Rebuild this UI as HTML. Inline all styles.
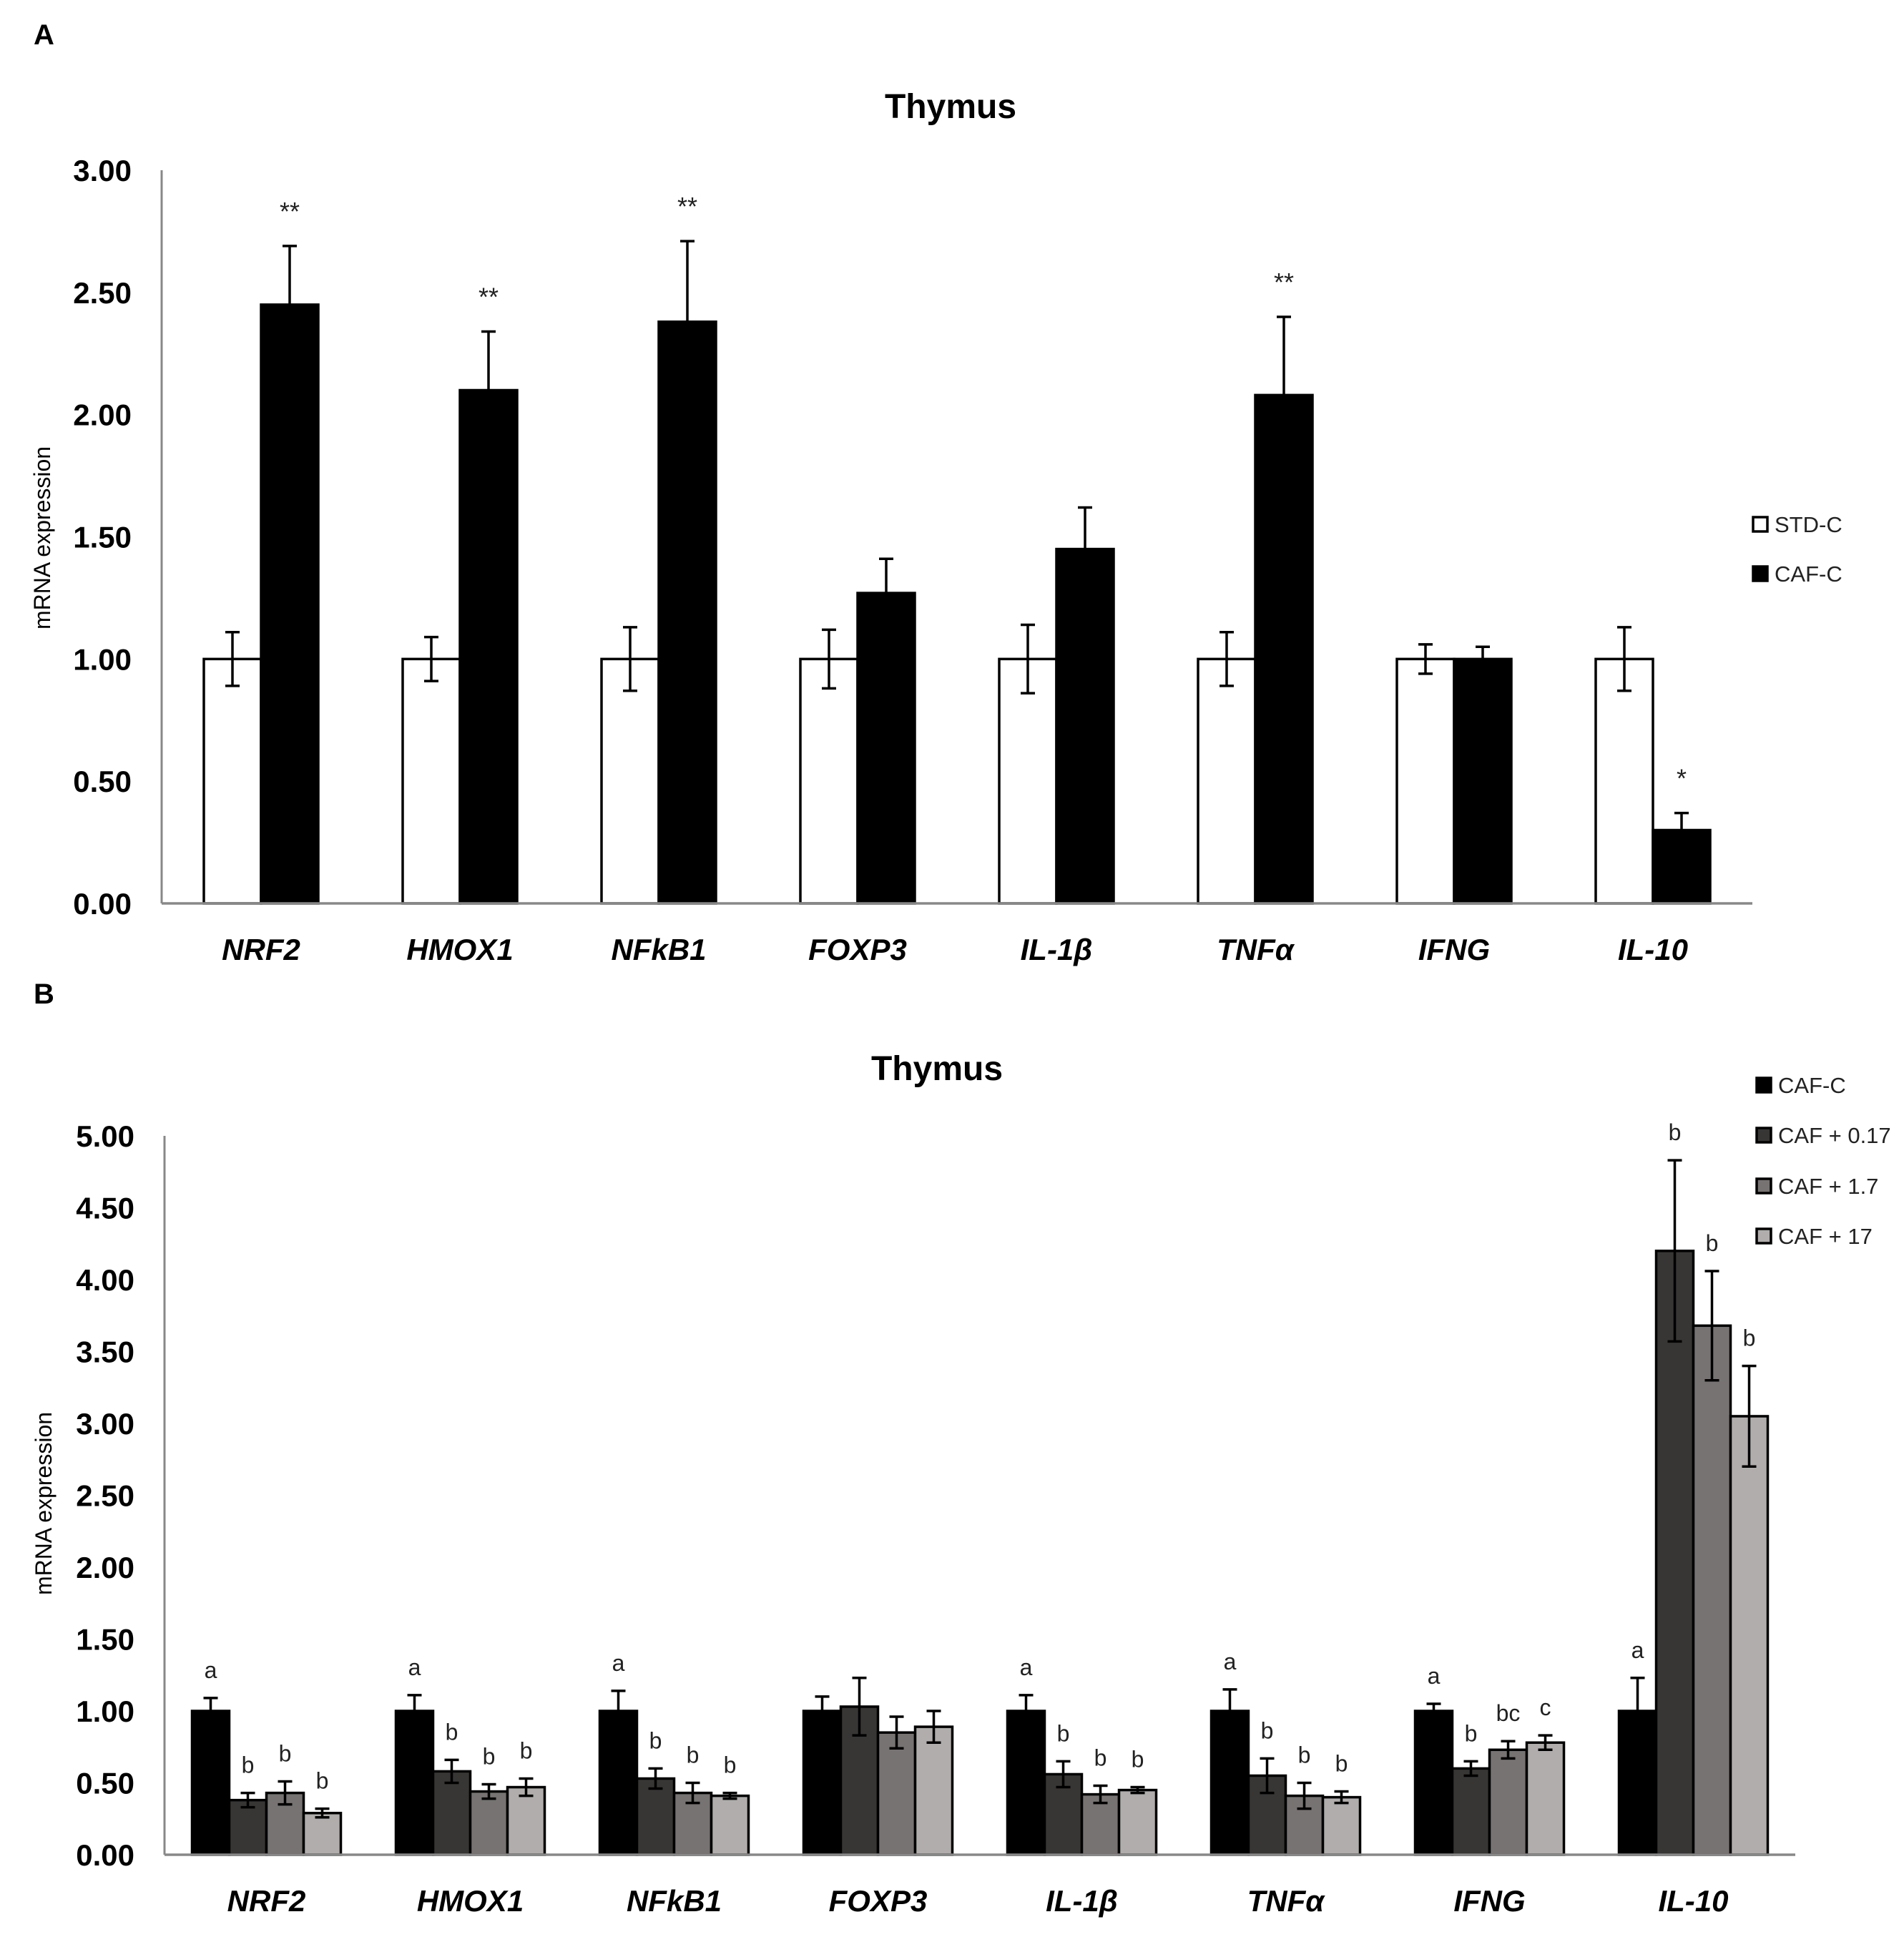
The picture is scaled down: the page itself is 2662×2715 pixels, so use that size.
<!DOCTYPE html>
<html><head><meta charset="utf-8"><style>
html,body{margin:0;padding:0;background:#fff;}
svg{display:block;font-family:"Liberation Sans",sans-serif;}
</style></head><body>
<svg id="fig" width="2662" height="2715" viewBox="0 0 2662 2715" xmlns="http://www.w3.org/2000/svg">
<rect width="2662" height="2715" fill="#fff"/>
<g id="A"></g>
<g id="B"></g>
</svg>
<script>
const genes = ["NRF2","HMOX1","NFkB1","FOXP3","IL-1β","TNFα","IFNG","IL-10"];
const aTicks = ["0.00","0.50","1.00","1.50","2.00","2.50","3.00"];
const aStd = [1,1,1,1,1,1,1,1];
const aStdErr = [0.11,0.09,0.13,0.12,0.14,0.11,0.06,0.13];
const aCaf = [2.45,2.10,2.38,1.27,1.45,2.08,1.00,0.30];
const aCafErr = [0.24,0.24,0.33,0.14,0.17,0.32,0.05,0.07];
const aStars = ["**","**","**","","","**","","*"];
const bTicks = ["0.00","0.50","1.00","1.50","2.00","2.50","3.00","3.50","4.00","4.50","5.00"];
const bSeriesNames = ["CAF-C","CAF + 0.17","CAF + 1.7","CAF + 17"];
const bCafC = [1,1,1,1,1,1,1,1];
const bCafCErr = [0.09,0.11,0.14,0.10,0.11,0.15,0.05,0.23];
const b017 = [0.38,0.58,0.53,1.03,0.56,0.55,0.60,4.20];
const b017Err = [0.05,0.08,0.07,0.20,0.09,0.12,0.05,0.63];
const b17 = [0.43,0.44,0.43,0.85,0.42,0.41,0.73,3.68];
const b17Err = [0.08,0.05,0.07,0.11,0.06,0.09,0.06,0.38];
const b170 = [0.29,0.47,0.41,0.89,0.45,0.40,0.78,3.05];
const b170Err = [0.03,0.06,0.02,0.11,0.02,0.04,0.05,0.35];
const bLetC = ["a","a","a","","a","a","a","a"];
const bLet017 = ["b","b","b","","b","b","b","b"];
const bLet17 = ["b","b","b","","b","b","bc","b"];
const bLet170 = ["b","b","b","","b","b","c","b"];

const NS="http://www.w3.org/2000/svg";
function mk(parent,tag,attrs,text){const e=document.createElementNS(NS,tag);for(const k in attrs)e.setAttribute(k,attrs[k]);if(text!==undefined)e.textContent=text;parent.appendChild(e);return e;}

function panel(g,cfg){
  const {x0,x1,yBase,yTop,maxV,ticks,series,errs,upOnly,fills,letters,letterOff,letterSize,barW,title,titleX,titleY,label,labelY,ytX,ytY,legend}=cfg;
  const y=v=>yBase-(v/maxV)*(yBase-yTop);
  const catW=(x1-x0)/genes.length;
  let t=mk(g,'text',{x:47,y:labelY,'font-size':40,'font-weight':'bold'},label);
  
  
  t=mk(g,'text',{x:titleX,y:titleY,'font-size':48,'font-weight':'bold','text-anchor':'middle'},title);
  
  
  t=mk(g,'text',{x:ytX,y:ytY,'font-size':32,'text-anchor':'middle',transform:`rotate(-90 ${ytX} ${ytY})`},'mRNA expression');
  
  
  ticks.forEach(s=>{
    const tk=mk(g,'text',{x:x0-42,y:y(parseFloat(s))+15,'font-size':42,'font-weight':'bold','text-anchor':'end'},s);
    
    
  });
  const n=series.length;
  genes.forEach((gname,i)=>{
    const cx=x0+catW*(i+0.5);
    const start=cx-n*barW/2;
    series.forEach((arr,s)=>{
      const bx=start+s*barW, v=arr[i], top=y(v);
      const r=mk(g,'rect',{x:bx,y:top,width:barW,height:yBase-top,fill:fills[s],stroke:'#000','stroke-width':3.5});
      
      
      const e=errs[s][i], mx=bx+barW/2;
      const yHi=y(v+e), yLo=upOnly[s]?top:y(v-e);
      const eg=mk(g,'g',{stroke:'#000','stroke-width':3.5});
      
      
      mk(eg,'line',{x1:mx,x2:mx,y1:yHi,y2:yLo});
      mk(eg,'line',{x1:mx-10,x2:mx+10,y1:yHi,y2:yHi});
      if(!upOnly[s]) mk(eg,'line',{x1:mx-10,x2:mx+10,y1:yLo,y2:yLo});
      const L=letters[s][i];
      if(L){const lt=mk(g,'text',{x:mx,y:yHi-letterOff,'font-size':letterSize,fill:'#222','text-anchor':'middle'},L);
        
        }
    });
    const cl=mk(g,'text',{x:cx,y:cfg.catY,'font-size':42,'font-weight':'bold','font-style':'italic','text-anchor':'middle'},gname);
    
    
  });
  let ax=mk(g,'line',{x1:x0,x2:x0,y1:yTop,y2:yBase,stroke:'#888','stroke-width':3});
  
  
  ax=mk(g,'line',{x1:x0,x2:x1,y1:yBase,y2:yBase,stroke:'#888','stroke-width':3.5});
  
  
  legend.names.forEach((nm,k)=>{
    const ly=legend.ys[k];
    const lg=mk(g,'g',{});
    
    
    mk(lg,'rect',{x:legend.x,y:ly-10,width:20,height:20,fill:fills[k],stroke:'#000','stroke-width':3.5});
    mk(lg,'text',{x:legend.x+30,y:ly+11,'font-size':31,fill:'#222'},nm);
  });
}

panel(document.getElementById('A'),{
  x0:226,x1:2450,yBase:1263,yTop:238,maxV:3,ticks:aTicks,
  series:[aStd,aCaf],errs:[aStdErr,aCafErr],upOnly:[false,true],fills:['#fff','#000'],
  letters:[["","","","","","","",""],aStars],letterOff:36,letterSize:36,barW:80,
  title:'Thymus',titleX:1329,titleY:165,label:'A',labelY:62,ytX:70,ytY:752,catY:1342,
  legend:{x:2451,ys:[733,802],names:['STD-C','CAF-C']}
});
panel(document.getElementById('B'),{
  x0:230,x1:2510,yBase:2593,yTop:1588,maxV:5,ticks:bTicks,
  series:[bCafC,b017,b17,b170],errs:[bCafCErr,b017Err,b17Err,b170Err],upOnly:[true,false,false,false],
  fills:['#000','#383634','#767372','#b0adac'],
  letters:[bLetC,bLet017,bLet17,bLet170],letterOff:28,letterSize:32,barW:52,
  title:'Thymus',titleX:1310,titleY:1510,label:'B',labelY:1403,ytX:72,ytY:2102,catY:2672,
  legend:{x:2456,ys:[1517,1587,1658,1728],names:bSeriesNames}
});
</script>
</body></html>
